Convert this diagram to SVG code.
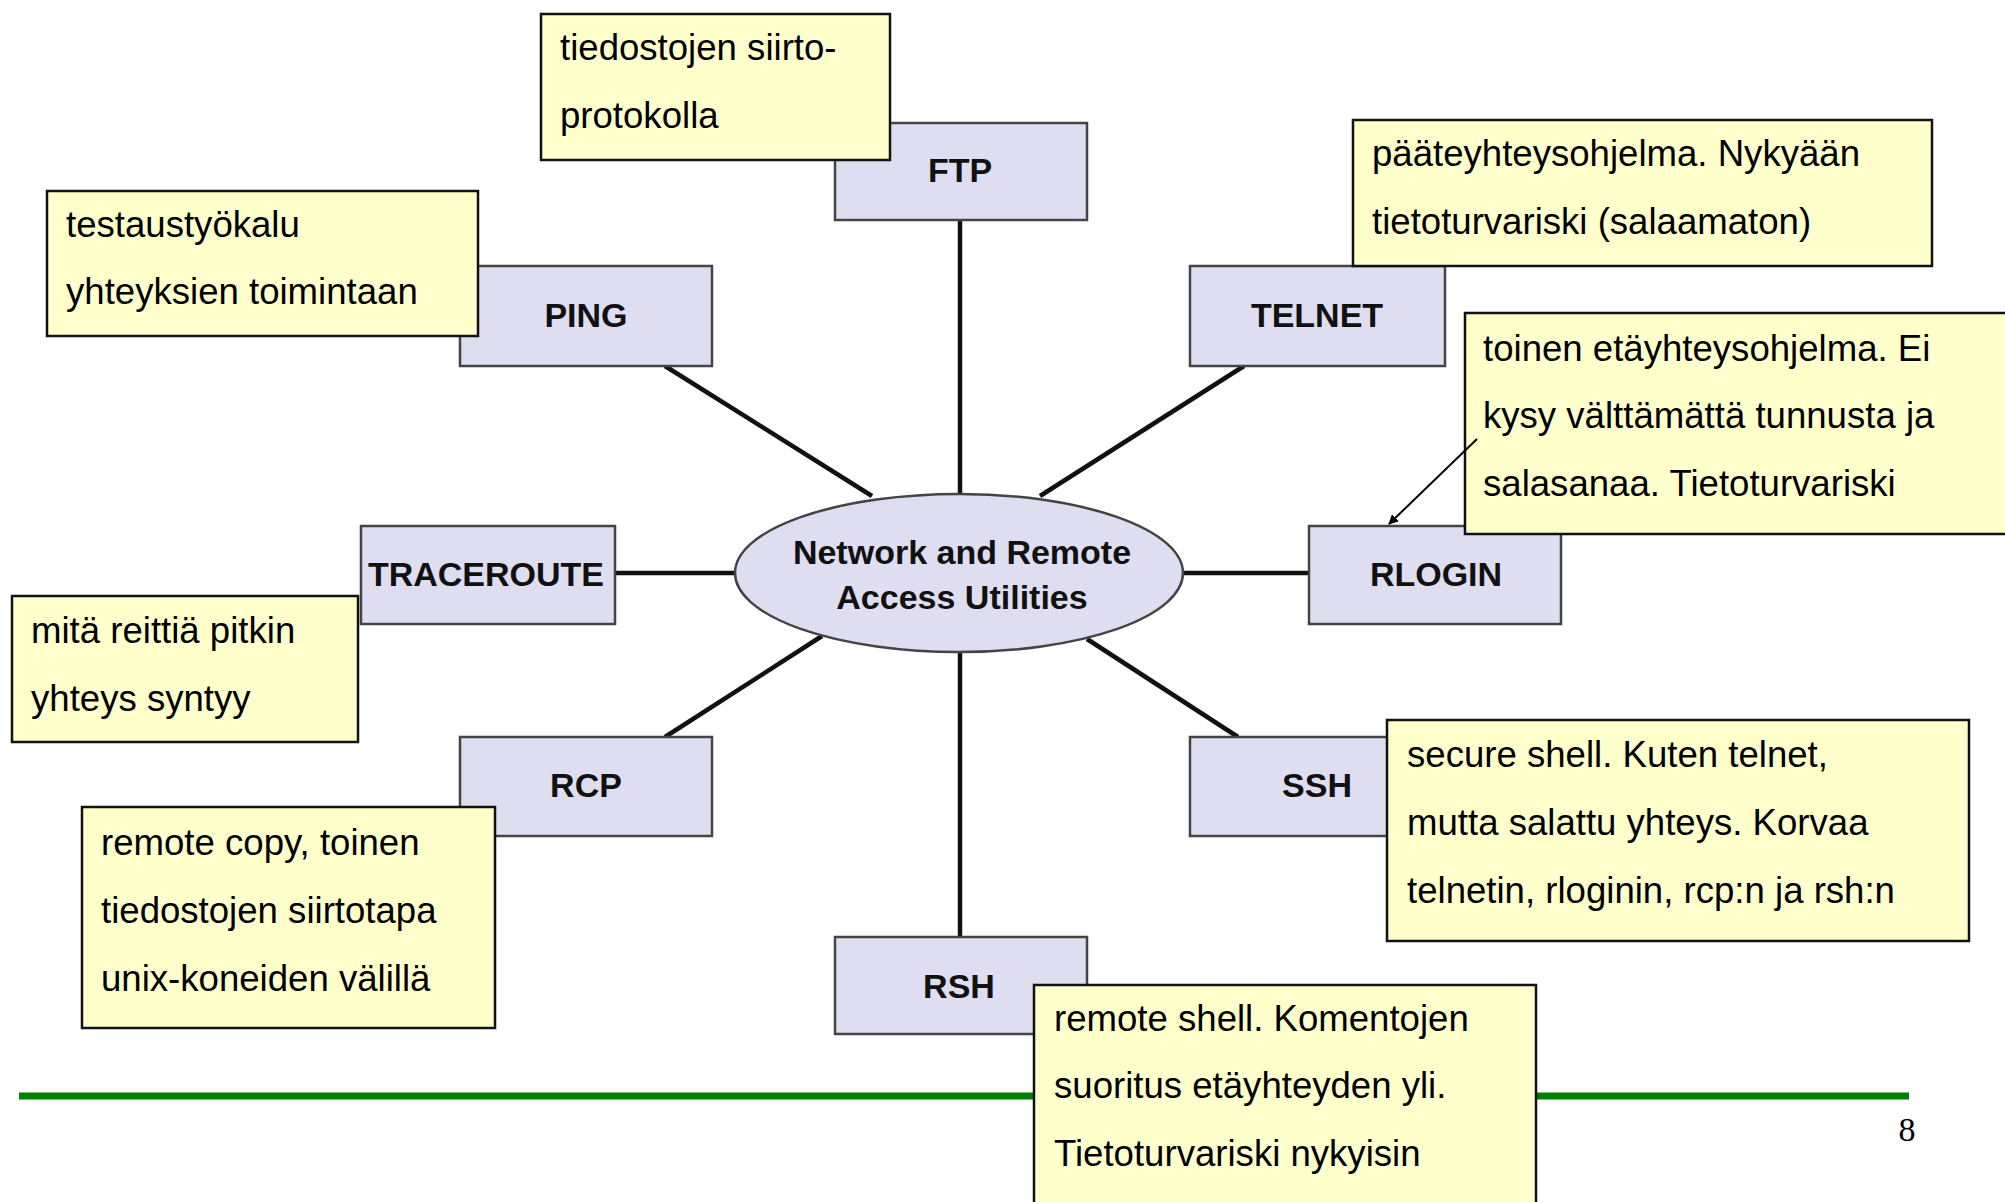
<svg xmlns="http://www.w3.org/2000/svg" width="2005" height="1202" viewBox="0 0 2005 1202">
<style>
.node{fill:#DEDEF0;stroke:#444;stroke-width:2.5}
.lbl{font-family:"Liberation Sans",Arial,sans-serif;font-weight:bold;font-size:34px;fill:#111;text-anchor:middle}
.note{fill:#FFFFCC;stroke:#111;stroke-width:2.5}
.nt{font-family:"Liberation Sans",Arial,sans-serif;font-size:36.6px;fill:#000}
.conn{stroke:#111;stroke-width:4.5;fill:none}
</style>
<defs>
<marker id="ah" markerWidth="10" markerHeight="10" refX="9" refY="5" orient="auto" markerUnits="userSpaceOnUse"><path d="M0,0 L10,5 L0,10 Z" fill="#000"/></marker>
</defs>
<rect width="2005" height="1202" fill="#fff"/>
<line x1="19" y1="1096" x2="1909" y2="1096" stroke="#008000" stroke-width="7"/>
<text x="1907" y="1141" font-family="Liberation Serif,serif" font-size="34" text-anchor="middle">8</text>
<g id="connectors">
<line class="conn" x1="960" y1="220" x2="960" y2="494"/>
<line class="conn" x1="665" y1="366" x2="872" y2="496"/>
<line class="conn" x1="1244" y1="366" x2="1040" y2="496"/>
<line class="conn" x1="615" y1="573" x2="735" y2="573"/>
<line class="conn" x1="1183" y1="573" x2="1309" y2="573"/>
<line class="conn" x1="665" y1="737" x2="822" y2="636"/>
<line class="conn" x1="1238" y1="737" x2="1087" y2="639"/>
<line class="conn" x1="960" y1="652" x2="960" y2="937"/>
</g>
<g id="center"><ellipse cx="959" cy="573" rx="224" ry="79" class="node"/>
<text class="lbl" x="962" y="564">Network and Remote</text>
<text class="lbl" x="962" y="609">Access Utilities</text></g>
<g id="ftp"><rect class="node" x="835" y="123" width="252" height="97"/><text class="lbl" x="960" y="182">FTP</text></g>
<g id="ping"><rect class="node" x="460" y="266" width="252" height="100"/><text class="lbl" x="586" y="327">PING</text></g>
<g id="telnet"><rect class="node" x="1190" y="266" width="255" height="100"/><text class="lbl" x="1317" y="327">TELNET</text></g>
<g id="traceroute"><rect class="node" x="361" y="526" width="254" height="98"/><text class="lbl" x="486" y="586">TRACEROUTE</text></g>
<g id="rlogin"><rect class="node" x="1309" y="526" width="252" height="98"/><text class="lbl" x="1436" y="586">RLOGIN</text></g>
<g id="rcp"><rect class="node" x="460" y="737" width="252" height="99"/><text class="lbl" x="586" y="797">RCP</text></g>
<g id="ssh"><rect class="node" x="1190" y="737" width="255" height="99"/><text class="lbl" x="1317" y="797">SSH</text></g>
<g id="rsh"><rect class="node" x="835" y="937" width="252" height="97"/><text class="lbl" x="959" y="998">RSH</text></g>
<g id="note-ftp"><rect class="note" x="541" y="14" width="349" height="146"/>
<text class="nt" x="560" y="60">tiedostojen siirto-</text><text class="nt" x="560" y="128">protokolla</text></g>
<g id="note-ping"><rect class="note" x="47" y="191" width="431" height="145"/>
<text class="nt" x="66" y="237">testaustyökalu</text><text class="nt" x="66" y="304">yhteyksien toimintaan</text></g>
<g id="note-telnet"><rect class="note" x="1353" y="120" width="579" height="146"/>
<text class="nt" x="1372" y="166">pääteyhteysohjelma. Nykyään</text><text class="nt" x="1372" y="234">tietoturvariski (salaamaton)</text></g>
<g id="note-rlogin"><rect class="note" x="1465" y="313" width="545" height="221"/>
<text class="nt" x="1483" y="361">toinen etäyhteysohjelma. Ei</text><text class="nt" x="1483" y="428">kysy välttämättä tunnusta ja</text><text class="nt" x="1483" y="496">salasanaa. Tietoturvariski</text></g>
<g id="note-traceroute"><rect class="note" x="12" y="596" width="346" height="146"/>
<text class="nt" x="31" y="643">mitä reittiä pitkin</text><text class="nt" x="31" y="711">yhteys syntyy</text></g>
<g id="note-rcp"><rect class="note" x="82" y="807" width="413" height="221"/>
<text class="nt" x="101" y="855">remote copy, toinen</text><text class="nt" x="101" y="923">tiedostojen siirtotapa</text><text class="nt" x="101" y="991">unix-koneiden välillä</text></g>
<g id="note-ssh"><rect class="note" x="1387" y="720" width="582" height="221"/>
<text class="nt" x="1407" y="767">secure shell. Kuten telnet,</text><text class="nt" x="1407" y="835">mutta salattu yhteys. Korvaa</text><text class="nt" x="1407" y="903">telnetin, rloginin, rcp:n ja rsh:n</text></g>
<g id="note-rsh"><rect class="note" x="1034" y="985" width="502" height="230"/>
<text class="nt" x="1054" y="1031">remote shell. Komentojen</text><text class="nt" x="1054" y="1098">suoritus etäyhteyden yli.</text><text class="nt" x="1054" y="1166">Tietoturvariski nykyisin</text></g>
<g id="arrow"><line x1="1477" y1="439" x2="1389" y2="524" stroke="#000" stroke-width="2" marker-end="url(#ah)"/></g>
</svg>
